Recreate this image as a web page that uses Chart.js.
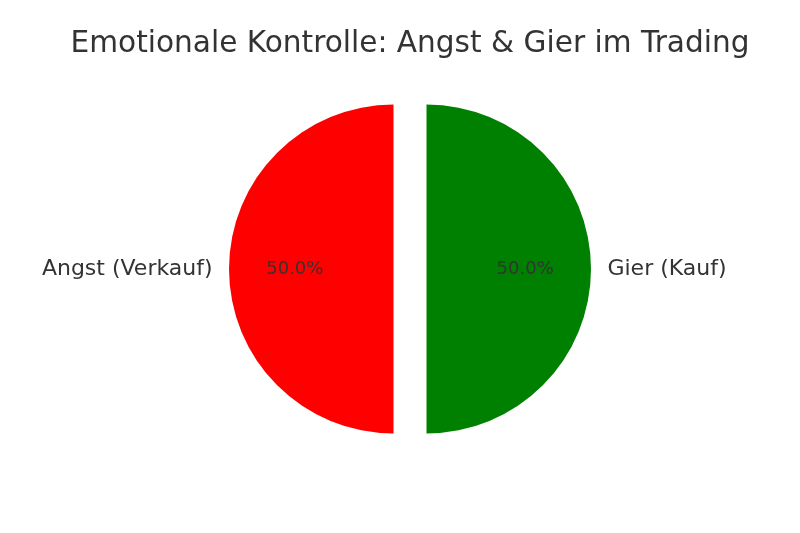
<!DOCTYPE html>
<html><head><meta charset="utf-8">
<script src="https://cdn.jsdelivr.net/npm/chart.js@4/dist/chart.umd.min.js"></script>
<style>html,body{margin:0;padding:0;background:#fff}#c{display:block}</style>
</head><body>
<div style="width:800px;height:533px"><canvas id="c" width="800" height="533"></canvas></div>
<script>
const categories = ["Angst (Verkauf)", "Gier (Kauf)"];
const values = [50, 50];
const colors = ["#ff0000", "#008000"];
const title = "Emotionale Kontrolle: Angst & Gier im Trading";
const explodePx = 16.5;

const explodePlugin = {
  id: 'explode',
  beforeDatasetDraw(chart, args) {
    const ctx = chart.ctx;
    args.meta.data.forEach(arc => {
      const p = arc.getProps(['startAngle', 'endAngle'], true);
      const mid = (p.startAngle + p.endAngle) / 2;
      ctx.save();
      ctx.translate(Math.cos(mid) * explodePx, Math.sin(mid) * explodePx);
      arc.draw(ctx, chart.chartArea);
      ctx.restore();
    });
    return false;
  },
  afterDatasetsDraw(chart) {
    const ctx = chart.ctx;
    const meta = chart.getDatasetMeta(0);
    const total = values.reduce((a, b) => a + b, 0);
    ctx.save();
    ctx.fillStyle = '#333333';
    meta.data.forEach((arc, i) => {
      const p = arc.getProps(['x', 'y', 'startAngle', 'endAngle', 'outerRadius'], true);
      const mid = (p.startAngle + p.endAngle) / 2;
      const cx = p.x + Math.cos(mid) * explodePx;
      const cy = p.y + Math.sin(mid) * explodePx;
      const r = p.outerRadius;
      ctx.font = '18px "DejaVu Sans"';
      ctx.textAlign = 'center';
      ctx.textBaseline = 'middle';
      ctx.fillText((values[i] / total * 100).toFixed(1) + '%', cx + Math.cos(mid) * r * 0.6, cy + Math.sin(mid) * r * 0.6);
      ctx.font = '22px "DejaVu Sans"';
      const lx = cx + Math.cos(mid) * r * 1.1;
      const ly = cy + Math.sin(mid) * r * 1.1;
      ctx.textAlign = Math.cos(mid) < 0 ? 'right' : 'left';
      ctx.fillText(categories[i], lx, ly);
    });
    ctx.font = '29.6px "DejaVu Sans"';
    ctx.textAlign = 'center';
    ctx.textBaseline = 'alphabetic';
    ctx.fillText(title, 410, 52);
    ctx.restore();
  }
};

new Chart(document.getElementById('c'), {
  type: 'pie',
  data: {
    labels: categories,
    datasets: [{
      data: values,
      backgroundColor: colors,
      borderWidth: 0,
      hoverOffset: 0
    }]
  },
  options: {
    responsive: false,
    animation: false,
    rotation: 180,
    radius: 164.5,
    layout: { padding: { left: 20, right: 0, top: 5, bottom: 0 } },
    plugins: { legend: { display: false }, tooltip: { enabled: false }, title: { display: false } },
    events: []
  },
  plugins: [explodePlugin]
});
</script>
</body></html>
